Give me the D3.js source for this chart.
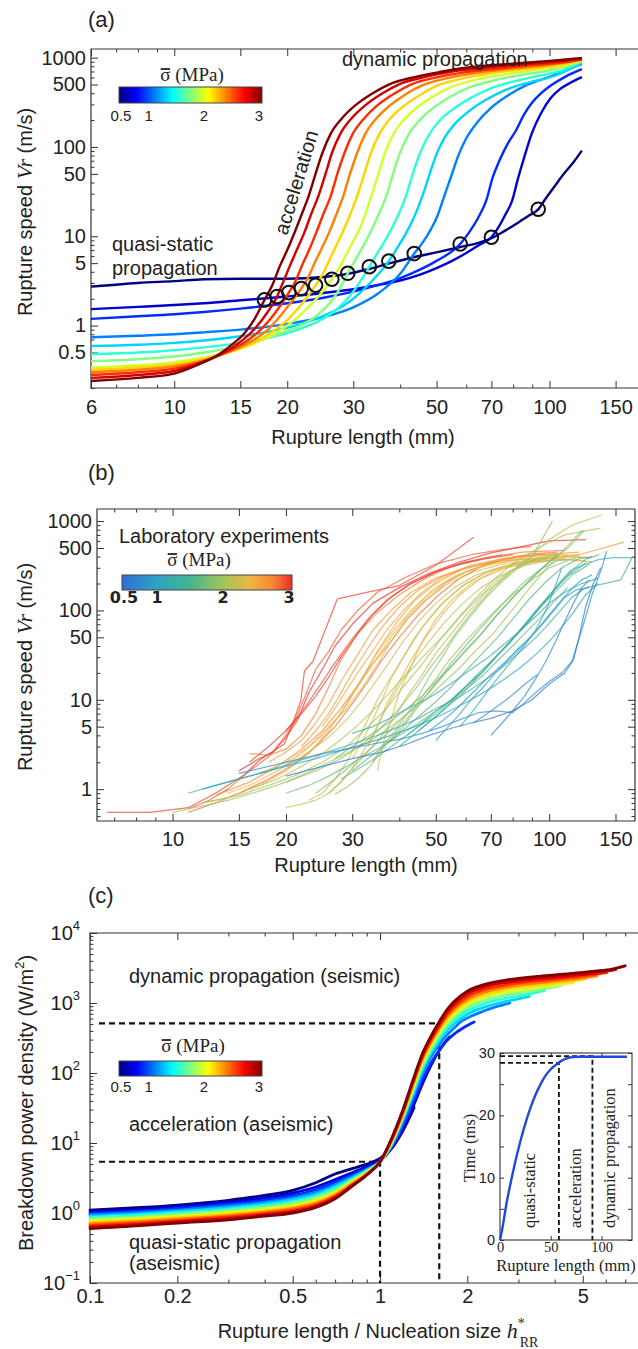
<!DOCTYPE html>
<html><head><meta charset="utf-8">
<script src="https://cdn.jsdelivr.net/npm/d3@7/dist/d3.min.js"></script>
<style>html,body{margin:0;padding:0;background:#fff}svg{display:block}</style>
</head><body>
<svg id="fig" width="638" height="1349" xmlns="http://www.w3.org/2000/svg"></svg>
<script>
// ================= DATA =================
// Panel (a): simulated rupture speed vs rupture length, one curve per normal stress
const aSigma=[0.5,0.708,0.917,1.125,1.333,1.542,1.75,1.958,2.167,2.375,2.583,2.792,3.0];
const aCurves=[
[[6,2.73],[8,3.0],[10,3.15],[12,3.3],[15,3.35],[20,3.35],[25,3.5],[29,3.8],[33,4.3],[37,4.9],[44,5.9],[50,6.6],[58,7.6],[65,8.5],[70,9.5],[76,11.5],[82,14],[88,17],[93.3,20],[98,27],[104,38],[110,52],[116,68],[122,91]],
[[6,1.53],[8,1.62],[10,1.7],[12,1.78],[15,1.92],[20,2.12],[25,2.32],[30,2.55],[35,2.85],[40,3.2],[45,3.7],[50,4.4],[55,5.3],[60,6.5],[65,8],[70,9.75],[73,12.5],[76,17],[79.5,25],[82.5,45],[85.5,75],[89.7,142],[95,240],[101,357],[107,450],[114,527],[122,604]],
[[6,1.19],[8,1.27],[10,1.34],[12,1.42],[15,1.55],[20,1.78],[25,2.05],[30,2.4],[35,2.85],[40,3.4],[45,4.2],[50,5.3],[57.8,8.2],[61,11],[64.5,16],[67.8,25],[70.5,45],[73.5,70],[77,105],[81.4,153],[85.5,230],[89.7,310],[95,400],[101,490],[110,610],[122,742]],
[[6,0.74],[8,0.77],[10,0.8],[12,0.84],[15,0.9],[18,0.98],[21,1.08],[25,1.25],[30,1.6],[35,2.3],[40,3.8],[43.6,6.4],[46,8.6],[48.2,11.8],[50.3,17],[52.4,28],[54.7,47],[57,78],[60,125],[64.3,190],[69.6,270],[77.7,380],[85.7,480],[101,620],[122,850]],
[[6,0.59],[8,0.61],[10,0.64],[12,0.68],[15,0.76],[18,0.86],[21,1.0],[24,1.2],[27,1.5],[30,2.0],[33,2.9],[37.3,5.27],[39.2,7.3],[41.3,10.5],[43.6,16.5],[45.8,28],[47.8,48],[49.8,80],[52.4,125],[56.2,185],[60.9,250],[67.9,340],[74.9,420],[88.4,530],[102.6,620],[122,880]],
[[6,0.48],[8,0.5],[10,0.53],[12,0.57],[15,0.64],[18,0.74],[21,0.88],[24,1.1],[27,1.5],[30,2.4],[33.1,4.56],[34.8,6.5],[36.9,9.8],[39.2,16],[41.4,28],[43.2,50],[45,82],[47.4,130],[50.8,195],[55,260],[61.4,350],[67.7,430],[79.9,540],[92.7,620],[108,720],[122,895]],
[[6,0.4],[8,0.42],[10,0.45],[12,0.5],[14,0.56],[16,0.64],[18,0.74],[20,0.87],[22,1.03],[24,1.3],[26,1.8],[27.6,2.6],[29,3.85],[30.8,6],[32.7,9.5],[34.7,16],[36.7,28],[38.3,50],[39.9,85],[42,135],[45.1,200],[48.8,270],[54.4,365],[60,450],[70.8,555],[82.2,630],[100,720],[122,910]],
[[6,0.34],[8,0.36],[10,0.39],[12,0.44],[14,0.51],[16,0.61],[18,0.76],[20,1.0],[22,1.4],[24.2,2.1],[26.3,3.3],[27.5,4.4],[28.6,6],[29.9,8.6],[31.3,12.5],[32.4,18.5],[33.5,28],[35,50],[36.4,85],[38.4,140],[41.1,205],[44.5,280],[49.6,380],[54.8,470],[64.7,575],[75,645],[92,730],[110,815],[122,925]],
[[6,0.32],[8,0.34],[10,0.37],[12,0.42],[14,0.5],[16,0.62],[18,0.82],[20,1.15],[22,1.8],[23.8,2.83],[24.8,3.7],[25.8,5.2],[26.9,7.6],[28.2,11.5],[29.5,18],[30.7,28],[32.1,50],[33.4,85],[35.2,140],[37.7,210],[40.8,285],[45.5,390],[50.2,485],[59.3,590],[68.8,660],[85,740],[105,820],[122,940]],
[[6,0.3],[8,0.32],[10,0.35],[12,0.41],[14,0.51],[16,0.66],[18,0.95],[20,1.6],[21.8,2.6],[22.7,3.4],[23.6,4.9],[24.7,7.3],[25.9,11.2],[27.1,18],[28.2,28],[29.4,50],[30.7,85],[32.3,140],[34.6,210],[37.5,290],[41.8,400],[46.1,495],[54.4,600],[63.2,670],[78,745],[98,820],[122,950]],
[[6,0.28],[8,0.3],[10,0.33],[12,0.4],[14,0.52],[15.5,0.66],[17,0.9],[18.6,1.4],[20.2,2.34],[21,3.1],[21.9,4.7],[22.9,7.1],[23.9,11],[25,18],[26.1,28],[27.2,50],[28.4,85],[29.9,140],[32.1,210],[34.7,290],[38.7,400],[42.7,500],[50.4,605],[58.5,680],[72,750],[92,830],[110,890],[122,960]],
[[6,0.26],[8,0.28],[10,0.31],[11.5,0.37],[13.2,0.47],[14.3,0.57],[15.3,0.7],[16.5,0.95],[17.7,1.4],[18.8,2.12],[19.4,2.9],[20.3,4.6],[21.2,7],[22.2,10.9],[23.2,18],[24.2,28],[25.3,50],[26.3,85],[27.7,140],[29.7,210],[32.2,290],[35.9,400],[39.6,500],[46.7,610],[54.2,690],[65,760],[85,840],[105,905],[122,975]],
[[6,0.24],[8,0.26],[10,0.29],[11.5,0.36],[13.2,0.48],[14.3,0.62],[15.3,0.8],[16.3,1.15],[17.4,1.94],[18.3,2.9],[19.1,4.6],[20,7],[20.9,10.9],[21.9,18],[22.8,28],[23.8,50],[24.8,85],[26.1,140],[28,210],[30.3,290],[33.8,400],[37.3,500],[44,610],[51,690],[60,770],[81,860],[100,920],[122,990]]
];
// transition points (circles)
const aCircleL=[17.4,18.8,20.2,21.8,23.8,26.3,29.0,33.1,37.3,43.6,57.8,70.0,93.3];
const aCircleV=[1.94,2.12,2.34,2.6,2.83,3.3,3.85,4.56,5.27,6.4,8.2,9.75,20.1];
const aXTicks=[6,10,15,20,30,50,70,100,150];
const aYTicks=[0.5,1,5,10,50,100,500,1000];

// Panel (b): laboratory experiments
const bSigma=[2.95,2.85,3.0,2.75,2.9,2.6,2.8,2.7,2.95,
  2.5,2.4,2.6,2.3,2.5,2.2,2.4,2.35,2.2,2.3,2.45,2.1,
  2.0,1.9,1.8,1.7,1.6,1.85,1.55,2.05,1.75,1.65,1.95,1.5,
  1.3,1.2,1.0,0.9,1.1,0.8,0.6,0.75,1.25,1.0,1.4,0.7,
  2.15,1.9];
const bLines=[
[[6.7,.55],[8.7,.55],[11,.62],[13,.9],[15.5,1.45],[17,2.1],[19.8,3.2],[20.8,5.3],[21.9,9.7],[22.4,21],[23.6,27],[27.4,135],[33,160],[40,190],[50,320],[63,660]],
[[11,0.6],[12.5,0.75],[14,1.0],[16,1.6],[18,2.3],[19.5,3.5],[21,5.5],[22.5,11],[24,22],[26,35],[28,60],[31,100],[35,160],[42,240],[50,330],[62,420],[75,480],[90,520]],
[[15,1.6],[17,2.2],[18.5,2.6],[20,3.8],[21.5,6],[23,12],[25,22],[27,40],[30,70],[34,120],[40,180],[48,260],[58,350],[70,440],[85,520],[100,600],[125,620]],
[[16,2.5],[18,2.4],[20,2.8],[22,4],[24,7],[26,14],[28,28],[31,55],[35,95],[40,150],[47,230],[55,310],[68,390],[85,450],[110,470]],
[[20,4.5],[21.5,6.5],[23,9.5],[25,16],[27,26],[30,48],[33,80],[37,130],[42,190],[50,270],[60,350],[75,420]],
[[18,2.0],[20,2.6],[22,3.5],[24,5.5],[26,9],[28,16],[31,32],[34,60],[38,100],[43,160],[50,230],[60,300],[75,360],[95,380],[120,420],[158,580]],
[[11,0.55],[13,0.7],[15,0.9],[18,1.3],[21,1.9],[24,3],[27,5],[30,9],[33,16],[36,28],[40,50],[45,90],[51,150],[58,230],[66,310],[76,380],[90,430],[105,450]],
[[13,0.85],[16,1.2],[19,1.8],[22,2.8],[25,4.5],[28,8],[31,14],[34,25],[38,45],[42,80],[47,130],[53,200],[60,270],[70,340],[82,400],[98,430]],
[[16,2.0],[18,3.0],[20,4.5],[22,7],[24,11],[26,18],[28,30],[31,55],[34,90],[38,140],[43,200],[50,270],[58,330],[68,380],[80,420]],
[[12,0.7],[14,0.8],[17,1.1],[20,1.6],[23,2.5],[26,4.5],[29,9],[32,18],[35,35],[39,70],[44,130],[50,200],[58,280],[70,350],[85,400],[110,420],[128,380]],
[[14,0.9],[16,1.1],[19,1.6],[22,2.5],[25,4],[28,7],[31,14],[34,28],[38,55],[43,100],[49,170],[57,250],[68,320],[82,370],[100,380],[125,360]],
[[22,3],[24,4.5],[26,7],[28,12],[30,20],[33,38],[36,65],[40,110],[45,170],[52,240],[62,320],[75,380],[95,420],[120,450]],
[[17,1.5],[20,2],[23,3],[26,5],[29,8],[32,14],[35,25],[38,45],[42,80],[47,130],[54,200],[63,270],[75,330],[90,370],[110,400],[130,390]],
[[25,5],[27,8],[29,13],[31,20],[34,35],[37,60],[41,100],[46,160],[52,230],[60,300],[72,360],[88,400],[105,430]],
[[20,1.8],[23,2.6],[26,3.8],[29,6],[32,10],[35,17],[38,28],[41,45],[45,75],[50,120],[56,180],[64,250],[75,310],[90,350],[110,370],[130,350]],
[[28,8],[30,12],[32,18],[35,30],[38,50],[42,85],[47,140],[53,210],[61,280],[72,340],[86,380],[105,400]],
[[30,2.2],[32,3.5],[34,6],[36,10],[38,17],[41,30],[44,50],[48,80],[53,130],[60,200],[70,280],[82,340],[100,390],[120,420]],
[[23,0.75],[25,0.9],[27,1.3],[29,2],[31,3.5],[33,6],[35,10],[38,18],[42,35],[46,65],[51,110],[58,180],[67,260],[80,330],[97,380]],
[[35,1.6],[36,3],[38,6],[40,12],[43,24],[46,45],[50,80],[55,130],[62,200],[72,280],[85,340],[100,380],[120,400]],
[[33,3],[35,5],[37,9],[40,16],[43,28],[47,50],[52,90],[58,150],[66,230],[77,300],[92,350],[110,380]],
[[26,0.9],[28,1.2],[30,1.7],[33,2.6],[36,4],[39,6.5],[42,11],[46,19],[50,33],[55,55],[61,95],[68,160],[77,250],[88,380],[100,620],[115,900],[138,1170]],
[[12,0.7],[15,0.85],[18,1.1],[21,1.4],[25,2],[29,3],[33,5],[37,8],[41,14],[46,25],[51,45],[57,80],[64,140],[72,230],[82,360],[95,520],[110,700],[137,835]],
[[20,1.2],[24,1.6],[28,2.2],[32,3.2],[36,5],[40,8],[44,13],[48,22],[53,38],[58,65],[64,110],[71,180],[80,280],[90,400],[102,1000]],
[[24,0.9],[27,1.3],[30,1.9],[34,3],[38,4.6],[42,7],[47,11],[52,18],[58,30],[65,50],[72,85],[80,140],[90,230],[100,350],[112,500],[124,790]],
[[27,2.2],[30,3],[34,4.2],[38,5.8],[42,8],[46,11],[50,16],[55,24],[60,36],[66,55],[72,85],[79,130],[87,200],[96,300],[105,420]],
[[30,1.6],[33,2.2],[37,3.2],[41,4.6],[45,6.5],[50,9.5],[55,14],[60,21],[66,32],[73,50],[80,80],[88,130],[97,200],[108,300],[120,380],[130,400]],
[[34,2],[36,3],[39,4.5],[42,7],[45,11],[48,18],[52,30],[56,50],[61,80],[67,130],[74,200],[82,290],[92,380],[105,420]],
[[28,1.3],[32,1.8],[36,2.5],[40,3.5],[45,5],[50,7],[55,10],[60,14],[66,20],[72,30],[79,45],[87,70],[95,110],[105,170],[115,250],[128,330]],
[[16,1.0],[19,1.3],[22,1.8],[25,2.5],[28,3.6],[31,5.2],[34,7.5],[37,11],[40,16],[44,24],[48,36],[53,55],[58,85],[64,130],[71,200],[79,280],[89,350],[100,380]],
[[38,3.5],[41,5],[44,7.5],[47,11],[51,17],[55,26],[60,40],[65,60],[71,90],[78,140],[86,210],[95,290],[105,360],[118,380]],
[[20,0.9],[23,1.1],[26,1.4],[29,1.8],[32,2.3],[36,3],[40,4],[45,5.5],[50,7.5],[55,10],[60,13],[66,18],[72,26],[79,38],[86,55],[94,80],[102,120],[112,180]],
[[10,0.55],[12,0.65],[14,0.75],[17,0.95],[20,1.2],[23,1.55],[26,2],[30,2.7],[34,3.6],[38,5],[42,7],[47,10],[52,15],[58,23],[64,36],[71,55],[78,90],[86,150],[95,250],[105,400],[115,600],[122,790]],
[[42,4],[46,5.5],[50,7.5],[55,10],[60,14],[66,20],[72,30],[79,45],[86,70],[94,110],[103,170],[113,250],[125,340]],
[[11,0.9],[13,1.1],[15,1.3],[18,1.6],[21,2],[25,2.5],[30,3.2],[35,4],[40,5],[45,6.2],[50,8],[56,10],[62,13],[68,17],[75,23],[82,32],[90,45],[98,65],[106,95],[115,140],[125,180],[140,200],[155,220],[166,390]],
[[30,4.2],[34,5],[38,6.3],[42,8],[47,10],[52,13],[57,17],[63,23],[69,30],[76,42],[84,60],[92,85],[100,120],[110,160],[122,200],[135,230]],
[[12,1.0],[14,1.2],[17,1.5],[20,1.8],[24,2.2],[28,2.7],[33,3.3],[38,4],[44,5],[50,6.3],[56,8],[62,10],[69,13],[76,17],[84,23],[92,32],[100,45],[108,65],[116,95],[125,150],[135,200]],
[[48,4.5],[52,5.8],[56,7.5],[60,10],[65,14],[70,19],[76,26],[82,36],[89,50],[96,70],[103,100],[110,140],[118,170],[128,180]],
[[58,5],[62,7],[66,10],[70,14],[75,20],[80,28],[86,40],[92,60],[98,100],[103,170],[108,300]],
[[15,1.5],[18,1.8],[21,2.1],[25,2.5],[29,2.8],[34,3.2],[40,3.6],[46,4.2],[52,5],[58,6],[65,7.2],[72,7.5],[80,7.2],[84,8.5],[92,12],[100,16],[108,20],[115,27],[122,60],[130,150],[138,300],[142,460]],
[[20,1.4],[25,1.8],[30,2.2],[36,2.6],[42,3.2],[48,4],[55,4.8],[62,5.5],[70,6.2],[80,7.5],[90,10],[100,15],[110,20],[116,28],[120,50],[125,110],[131,200],[137,300]],
[[63,5.5],[70,7.5],[77,10],[83,13],[88,16],[93,19]],
[[40,3],[45,4.5],[50,6.5],[55,9.5],[60,14],[65,20],[71,28],[77,40],[84,60],[91,90],[98,130],[106,200],[114,280],[125,330],[135,370],[148,390],[165,390]],
[[50,3.5],[54,5],[58,7],[62,10],[67,14],[72,20],[78,28],[85,40],[92,58],[99,85],[106,120],[114,170],[122,220],[130,250]],
[[45,4.5],[49,6],[53,8],[58,11],[63,16],[69,24],[75,36],[82,55],[90,85],[98,130],[107,200],[116,290],[126,380],[136,420]],
[[70,4],[75,5.5],[80,7.5],[86,11],[92,17],[98,27],[104,45],[110,75],[116,120],[122,180],[128,220]],
[[20,0.62],[22,0.68],[24,0.75],[26,0.9],[28,1.2],[30,1.7],[32,2.6],[34,4],[36,6.5],[38,10],[41,17],[44,28],[48,45],[53,75],[59,120],[66,180],[75,250],[86,320],[100,360]],
[[27,0.88],[29,1.05],[31,1.3],[33,1.7],[35,2.3],[37,3.2],[40,4.8],[43,7],[46,11],[50,17],[54,27],[59,42],[65,65],[72,100],[80,150],[90,220],[100,300],[112,360]]
];
const bXTicks=[10,15,20,30,50,70,100,150];
const bYTicks=[1,5,10,50,100,500,1000];
const bColorStops=[0.5,1.0,1.5,2.0,2.4,2.7,3.0];
const bColors=["#2f6fd4","#2aa3c6","#45b58e","#a6c457","#f0b446","#f88a33","#ee2d2a"];

// Panel (c): breakdown power density vs normalised rupture length
const cCurves=[
[[0.1,1.1],[0.15,1.2],[0.2,1.3],[0.3,1.52],[0.4,1.78],[0.5,2.1],[0.6,2.7],[0.7,3.6],[0.8,4.3],[0.9,5.0],[1.0,6.0],[1.1,8.5],[1.2,15],[1.31,32]],
[[0.1,1.04],[0.15,1.13],[0.2,1.23],[0.3,1.43],[0.4,1.65],[0.5,1.93],[0.6,2.35],[0.7,3.0],[0.8,3.75],[0.9,4.6],[1.0,5.6],[1.1,8.6],[1.2,16],[1.3,33],[1.4,70],[1.5,130],[1.6,210],[1.68,280],[1.74,330]],
[[0.1,0.98],[0.15,1.07],[0.2,1.16],[0.3,1.34],[0.4,1.53],[0.5,1.78],[0.6,2.15],[0.7,2.75],[0.8,3.5],[0.9,4.4],[1.0,5.5],[1.1,9],[1.2,18],[1.3,38],[1.4,80],[1.5,140],[1.6,210],[1.7,290],[1.8,360],[1.95,450],[2.11,535]],
[[0.1,0.94],[0.15,1.02],[0.2,1.1],[0.3,1.26],[0.4,1.43],[0.5,1.65],[0.6,1.98],[0.7,2.55],[0.8,3.3],[0.9,4.2],[1.0,5.4],[1.1,9.4],[1.2,20],[1.3,45],[1.4,98],[1.5,170],[1.6,255],[1.7,350],[1.8,440],[1.9,540],[2.0,610],[2.3,780],[2.5,880],[2.8,1000]],
[[0.1,0.9],[0.15,0.97],[0.2,1.05],[0.3,1.19],[0.4,1.35],[0.5,1.55],[0.6,1.85],[0.7,2.4],[0.8,3.15],[0.9,4.1],[1.0,5.4],[1.1,9.7],[1.2,22],[1.3,50],[1.4,110],[1.5,192],[1.6,290],[1.7,400],[1.8,505],[2.0,690],[2.3,880],[2.77,1070],[3.27,1250]],
[[0.1,0.86],[0.15,0.93],[0.2,1.0],[0.3,1.13],[0.4,1.27],[0.5,1.45],[0.6,1.73],[0.7,2.25],[0.8,3.0],[0.9,4.0],[1.0,5.4],[1.1,10],[1.2,23],[1.3,54],[1.4,120],[1.5,210],[1.6,320],[1.7,445],[1.8,565],[2.0,775],[2.3,990],[2.77,1190],[3.2,1320],[3.69,1520]],
[[0.1,0.82],[0.15,0.88],[0.2,0.95],[0.3,1.07],[0.4,1.2],[0.5,1.37],[0.6,1.63],[0.7,2.12],[0.8,2.9],[0.9,3.9],[1.0,5.4],[1.1,10.4],[1.2,24],[1.3,58],[1.4,130],[1.5,228],[1.6,350],[1.7,490],[1.8,625],[2.0,860],[2.3,1100],[2.77,1310],[3.5,1530],[4.2,1780]],
[[0.1,0.78],[0.15,0.84],[0.2,0.9],[0.3,1.02],[0.4,1.14],[0.5,1.29],[0.6,1.53],[0.7,2.0],[0.8,2.8],[0.9,3.8],[1.0,5.4],[1.1,10.7],[1.2,25],[1.3,62],[1.4,140],[1.5,245],[1.6,380],[1.7,535],[1.8,685],[2.0,945],[2.3,1210],[2.77,1440],[3.5,1660],[4.64,1950]],
[[0.1,0.74],[0.15,0.8],[0.2,0.86],[0.3,0.97],[0.4,1.08],[0.5,1.22],[0.6,1.45],[0.7,1.9],[0.8,2.7],[0.9,3.7],[1.0,5.4],[1.1,11],[1.2,26],[1.3,66],[1.4,150],[1.5,262],[1.6,410],[1.7,580],[1.8,745],[2.0,1030],[2.3,1320],[2.77,1570],[3.5,1800],[4.5,2030],[5.13,2220]],
[[0.1,0.7],[0.15,0.76],[0.2,0.82],[0.3,0.92],[0.4,1.03],[0.5,1.16],[0.6,1.37],[0.7,1.8],[0.8,2.6],[0.9,3.6],[1.0,5.4],[1.1,11.2],[1.2,27],[1.3,70],[1.4,160],[1.5,280],[1.6,440],[1.7,630],[1.8,810],[2.0,1120],[2.3,1430],[2.77,1700],[3.5,1930],[4.5,2160],[5.6,2450]],
[[0.1,0.66],[0.15,0.72],[0.2,0.78],[0.3,0.88],[0.4,0.98],[0.5,1.1],[0.6,1.3],[0.7,1.72],[0.8,2.5],[0.9,3.55],[1.0,5.4],[1.1,11.5],[1.2,28],[1.3,74],[1.4,170],[1.5,300],[1.6,470],[1.7,680],[1.8,880],[2.0,1230],[2.3,1560],[2.77,1840],[3.5,2070],[4.5,2300],[6.04,2720]],
[[0.1,0.63],[0.15,0.69],[0.2,0.75],[0.3,0.84],[0.4,0.94],[0.5,1.05],[0.6,1.25],[0.7,1.65],[0.8,2.45],[0.9,3.5],[1.0,5.4],[1.1,11.8],[1.2,29],[1.3,77],[1.4,180],[1.5,320],[1.6,500],[1.7,740],[1.8,960],[2.0,1350],[2.3,1700],[2.77,1990],[3.5,2230],[4.5,2450],[5.5,2680],[6.5,3000]],
[[0.1,0.6],[0.15,0.66],[0.2,0.72],[0.3,0.8],[0.4,0.9],[0.5,1.0],[0.6,1.2],[0.7,1.6],[0.8,2.4],[0.9,3.5],[1.0,5.4],[1.1,12],[1.2,30],[1.3,80],[1.4,190],[1.5,340],[1.6,540],[1.7,800],[1.8,1050],[2.0,1480],[2.3,1850],[2.77,2150],[3.5,2400],[4.5,2620],[5.5,2850],[6.3,3050],[7.0,3400]]
];
const cXTicks=[0.1,0.2,0.5,1,2,5];
const cYTicks=[0.1,1,10,100,1000,10000];
const cMarkX=[1.0,1.6];
const cMarkY=[5.4,510];
// inset: time vs rupture length
const insetL=[0,3,6,10,15,20,25,30,35,40,45,50,55,60,65,72,80,100,125];
const insetT=[0,2.5,5.5,8.8,12.5,15.8,18.7,21.2,23.3,25,26.4,27.4,28.1,28.7,29.1,29.35,29.4,29.4,29.4];
const insetMarkL=[58,91];
const insetMarkT=[28.4,29.5];
const insetXTicks=[0,50,100];
const insetYTicks=[0,10,20,30];
const cbarTicks=[0.5,1,2,3];

// ================= DRAWING =================
const svg=d3.select("#fig");
const FONT='"Liberation Sans", Arial, Helvetica, sans-serif';
const SERIF='"Liberation Serif", "Times New Roman", Times, serif';
const INK="#222", AX="#333";

function jet(t){t=Math.max(0,Math.min(1,t));const c=v=>Math.round(255*Math.max(0,Math.min(1,v)));
  return `rgb(${c(1.5-Math.abs(4*t-3))},${c(1.5-Math.abs(4*t-2))},${c(1.5-Math.abs(4*t-1))})`;}
const jetS=d3.scaleSequential(jet).domain([0.5,3]);
const bColor=d3.scaleLinear().domain(bColorStops).range(bColors);

function logTicks(dom){const out=[];const lo=Math.floor(Math.log10(dom[0])),hi=Math.ceil(Math.log10(dom[1]));
  for(let d=lo;d<=hi;d++)for(let k=1;k<=9;k++){const v=+(k*Math.pow(10,d)).toPrecision(6);if(v>=dom[0]*0.999&&v<=dom[1]*1.001)out.push(v);}return out;}

function styleAx(s,fs,fam){s.select(".domain").remove();s.selectAll("line").attr("stroke",AX).attr("stroke-width",1);
  s.selectAll("text").attr("font-family",fam||FONT).attr("font-size",fs).attr("fill",INK);}

function frame(g,x,y,o){
  const [x0,x1]=x.range(),[yb,yt]=y.range();
  const xr=o.xr??x1;
  const has=(arr,v)=>arr.some(a=>Math.abs(a-v)/v<1e-6);
  const xmin=logTicks(x.domain()).filter(v=>!has(o.xMajor,v));
  const ymin=logTicks(y.domain()).filter(v=>!has(o.yMajor,v));
  const M=7,m=3.5;
  g.append("g").attr("transform",`translate(0,${yb})`).call(d3.axisBottom(x).tickValues(o.xMajor).tickSizeInner(-M).tickSizeOuter(0).tickPadding(o.xPad).tickFormat(o.xFmt||(d=>d3.format("~g")(d)))).call(styleAx,20);
  g.append("g").attr("transform",`translate(0,${yb})`).call(d3.axisBottom(x).tickValues(xmin).tickSizeInner(-m).tickSizeOuter(0).tickFormat("")).call(styleAx,20);
  g.append("g").attr("transform",`translate(0,${yt})`).call(d3.axisTop(x).tickValues(o.xMajor).tickSizeInner(-M).tickSizeOuter(0).tickFormat("")).call(styleAx,20);
  g.append("g").attr("transform",`translate(0,${yt})`).call(d3.axisTop(x).tickValues(xmin).tickSizeInner(-m).tickSizeOuter(0).tickFormat("")).call(styleAx,20);
  const yl=g.append("g").attr("transform",`translate(${x0},0)`).call(d3.axisLeft(y).tickValues(o.yMajor).tickSizeInner(-M).tickSizeOuter(0).tickPadding(o.yPad).tickFormat(o.yFmt||(d=>d3.format("~g")(d)))).call(styleAx,20);
  g.append("g").attr("transform",`translate(${x0},0)`).call(d3.axisLeft(y).tickValues(ymin).tickSizeInner(-m).tickSizeOuter(0).tickFormat("")).call(styleAx,20);
  if(o.right){
    g.append("g").attr("transform",`translate(${xr},0)`).call(d3.axisRight(y).tickValues(o.yMajor).tickSizeInner(-M).tickSizeOuter(0).tickFormat("")).call(styleAx,20);
    g.append("g").attr("transform",`translate(${xr},0)`).call(d3.axisRight(y).tickValues(ymin).tickSizeInner(-m).tickSizeOuter(0).tickFormat("")).call(styleAx,20);
  }
  g.append("path").attr("d",`M${xr},${yt}H${x0}V${yb}H${xr}`+(o.right?`V${yt}`:"")).attr("fill","none").attr("stroke",AX).attr("stroke-width",1.2);
  return yl;
}

function txt(g,x,y,s,o={}){return g.append("text").attr("x",x).attr("y",y).attr("font-family",o.fam||FONT).attr("font-size",o.fs||20)
  .attr("fill",o.fill||INK).attr("text-anchor",o.anchor||"start").attr("font-weight",o.fw||null).text(s);}

function ylabelVr(g,cx,cy){
  const t=g.append("text").attr("transform",`translate(${cx},${cy}) rotate(-90)`).attr("text-anchor","middle")
    .attr("font-family",FONT).attr("font-size",20).attr("fill",INK);
  t.append("tspan").text("Rupture speed ");
  t.append("tspan").attr("font-family",SERIF).attr("font-style","italic").attr("font-size",22).text("Vr");
  t.append("tspan").text(" (m/s)");
}

function colorbar(g,id,x0,y0,w,h,colorFn,tickFont,tickFs,tickW,labY,tickY,labX){
  const grad=svg.append("defs").append("linearGradient").attr("id",id);
  d3.range(0,1.0001,0.02).forEach(t=>grad.append("stop").attr("offset",t).attr("stop-color",colorFn(0.5+2.5*t)));
  g.append("rect").attr("x",x0).attr("y",y0).attr("width",w).attr("height",h).attr("fill",`url(#${id})`).attr("stroke","#444").attr("stroke-width",1);
  const s=d3.scaleLinear().domain([0.5,3]).range([x0+2,x0+w-3]);
  cbarTicks.forEach(v=>txt(g,s(v),tickY,String(v),{fs:tickFs,anchor:"middle",fam:tickFont,fw:tickW}));
  const t=g.append("text").attr("x",labX).attr("y",labY).attr("text-anchor","middle").attr("font-family",SERIF).attr("font-size",19).attr("fill",INK);
  t.append("tspan").text("\u03C3");
  t.append("tspan").text(" (MPa)");
  const n=t.node();
  const a=n.getStartPositionOfChar(0).x, b=n.getEndPositionOfChar(0).x;
  g.append("line").attr("x1",a+0.5).attr("x2",b-0.5).attr("y1",labY-12).attr("y2",labY-12).attr("stroke",INK).attr("stroke-width",1.8);
}

// ---------- Panel (a) ----------
const gA=svg.append("g");
const xA=d3.scaleLog().domain([6,170]).range([91,636]);
const yA=d3.scaleLog().domain([0.2,1250]).range([388,49]);
txt(gA,88,27,"(a)",{fs:22});
frame(gA,xA,yA,{xMajor:aXTicks,yMajor:aYTicks,xPad:12,yPad:5,xr:638,right:false});
const lineA=d3.line().x(d=>xA(d[0])).y(d=>yA(d[1])).curve(d3.curveMonotoneX);
aCurves.forEach((c,i)=>gA.append("path").attr("d",lineA(c)).attr("fill","none").attr("stroke",jetS(aSigma[i])).attr("stroke-width",2.4).attr("stroke-linejoin","round"));
aCircleL.forEach((L,i)=>gA.append("circle").attr("cx",xA(L)).attr("cy",yA(aCircleV[i])).attr("r",6.8).attr("fill","none").attr("stroke","#111").attr("stroke-width",2));
txt(gA,342,66,"dynamic propagation");
txt(gA,112,251,"quasi-static");
txt(gA,112,275,"propagation");
gA.append("text").attr("transform","translate(287,236) rotate(-73)").attr("font-family",FONT).attr("font-size",20).attr("fill",INK).text("acceleration");
colorbar(gA,"cbA",119,87,143,16,jetS,FONT,15,null,81,121,192);
ylabelVr(gA,32,212);
txt(gA,363,444,"Rupture length (mm)",{anchor:"middle"});

// ---------- Panel (b) ----------
const gB=svg.append("g");
const xB=d3.scaleLog().domain([6.3,169]).range([97,635]);
const yB=d3.scaleLog().domain([0.44,1365]).range([821,509]);
txt(gB,88,480,"(b)",{fs:22});
frame(gB,xB,yB,{xMajor:bXTicks,yMajor:bYTicks,xPad:11,yPad:5,right:true});
const lineB=d3.line().x(d=>xB(d[0])).y(d=>yB(d[1]));
bLines.forEach((c,i)=>gB.append("path").attr("d",lineB(c)).attr("fill","none").attr("stroke",bColor(bSigma[i])).attr("stroke-opacity",0.7).attr("stroke-width",1.25).attr("stroke-linejoin","round"));
txt(gB,119,543,"Laboratory experiments");
colorbar(gB,"cbB",122,575,170,15,bColor,"DejaVu Sans",16,"bold",566,603,199);
ylabelVr(gB,32,667);
txt(gB,366,872,"Rupture length (mm)",{anchor:"middle"});

// ---------- Panel (c) ----------
const gC=svg.append("g");
const xC=d3.scaleLog().domain([0.1,7.69]).range([90,637]);
const yC=d3.scaleLog().domain([0.1,10000]).range([1283,933]);
txt(gC,88,903,"(c)",{fs:22});
const ylC=frame(gC,xC,yC,{xMajor:cXTicks,yMajor:cYTicks,xPad:6,yPad:10,xr:638,right:false,
  xFmt:d=>d3.format("~g")(d),yFmt:d=>""});
ylC.selectAll(".tick text").each(function(d){
  const t=d3.select(this);const e=Math.round(Math.log10(d));
  t.text(null);t.append("tspan").text("10");
  t.append("tspan").attr("font-size",13).attr("dy","-0.75em").text(e<0?"\u2212"+(-e):String(e));
});
// dashed guide lines
cMarkX.forEach((mx,i)=>{
  gC.append("path").attr("d",`M${xC(0.1)+9},${yC(cMarkY[i])}H${xC(mx)}V${yC(0.1)}`).attr("stroke","#111").attr("stroke-width",2.2).attr("stroke-dasharray","6,4").attr("fill","none");
});
const lineC=d3.line().x(d=>xC(d[0])).y(d=>yC(d[1])).curve(d3.curveMonotoneX);
cCurves.forEach((c,i)=>gC.append("path").attr("d",lineC(c)).attr("fill","none").attr("stroke",jetS(aSigma[i])).attr("stroke-width",2.8).attr("stroke-linejoin","round").attr("stroke-linecap","round"));
txt(gC,129,983,"dynamic propagation (seismic)");
txt(gC,129,1131,"acceleration (aseismic)");
txt(gC,129,1249,"quasi-static propagation");
txt(gC,129,1270,"(aseismic)");
colorbar(gC,"cbC",119,1061,143,15,jetS,FONT,15,null,1052,1092,193);
{ const t=gC.append("text").attr("transform","translate(33,1103) rotate(-90)").attr("text-anchor","middle").attr("font-family",FONT).attr("font-size",20).attr("fill",INK);
  t.append("tspan").text("Breakdown power density (W/m");
  t.append("tspan").attr("font-size",13).attr("dy","-0.7em").text("2");
  t.append("tspan").attr("dy","0.45em").text(")"); }
{ const t=gC.append("text").attr("x",378).attr("y",1338).attr("text-anchor","middle").attr("font-family",FONT).attr("font-size",20).attr("fill",INK);
  t.append("tspan").text("Rupture length / Nucleation size ");
  t.append("tspan").attr("font-family",SERIF).attr("font-style","italic").attr("font-size",22).text("h");
  t.append("tspan").attr("font-family",SERIF).attr("font-size",14).attr("dy","-0.75em").text("*");
  t.append("tspan").attr("font-family",SERIF).attr("font-size",14).attr("dx","-5").attr("dy","1.4em").text("RR"); }

// inset
const gI=svg.append("g");
const xI=d3.scaleLinear().domain([0,130]).range([500,632]);
const yI=d3.scaleLinear().domain([0,30]).range([1240,1053]);
gI.append("rect").attr("x",500).attr("y",1053).attr("width",132).attr("height",187).attr("fill","#fff");
gI.append("g").attr("transform","translate(0,1240)").call(d3.axisBottom(xI).tickValues(insetXTicks).tickSizeInner(-4).tickSizeOuter(0).tickPadding(2)).call(styleAx,14.5,SERIF);
gI.append("g").attr("transform","translate(0,1053)").call(d3.axisTop(xI).tickValues(insetXTicks).tickSizeInner(-4).tickSizeOuter(0).tickFormat("")).call(styleAx,14);
gI.append("g").attr("transform","translate(500,0)").call(d3.axisLeft(yI).tickValues(d3.range(0,31,5)).tickSizeInner(-4).tickSizeOuter(0).tickPadding(5).tickFormat(d=>insetYTicks.includes(d)?d:"")).call(styleAx,14.5);
gI.append("g").attr("transform","translate(632,0)").call(d3.axisRight(yI).tickValues(d3.range(0,31,5)).tickSizeInner(-4).tickSizeOuter(0).tickFormat("")).call(styleAx,14);
gI.append("rect").attr("x",500).attr("y",1053).attr("width",132).attr("height",187).attr("fill","none").attr("stroke",AX).attr("stroke-width",1.1);
insetMarkL.forEach((ml,i)=>gI.append("path").attr("d",`M${xI(0)},${yI(insetMarkT[i])}H${xI(ml)}V${yI(0)}`).attr("stroke","#111").attr("stroke-width",1.8).attr("stroke-dasharray","5,3").attr("fill","none"));
gI.append("path").attr("d",d3.line().x((d,i)=>xI(insetL[i])).y((d,i)=>yI(insetT[i])).curve(d3.curveMonotoneX)(insetL)).attr("fill","none").attr("stroke","#1f48e0").attr("stroke-width",2.4);
txt(gI,566,1271,"Rupture length (mm)",{fam:SERIF,fs:16.5,anchor:"middle"});
gI.append("text").attr("transform","translate(475,1148) rotate(-90)").attr("text-anchor","middle").attr("font-family",SERIF).attr("font-size",16.5).attr("fill",INK).text("Time (ms)");
[["quasi-static",535,1228],["acceleration",581,1228],["dynamic propagation",615,1228]].forEach(([s,x,y])=>
  gI.append("text").attr("transform",`translate(${x},${y}) rotate(-90)`).attr("font-family",SERIF).attr("font-size",16.5).attr("fill",INK).text(s));
</script>
</body></html>
